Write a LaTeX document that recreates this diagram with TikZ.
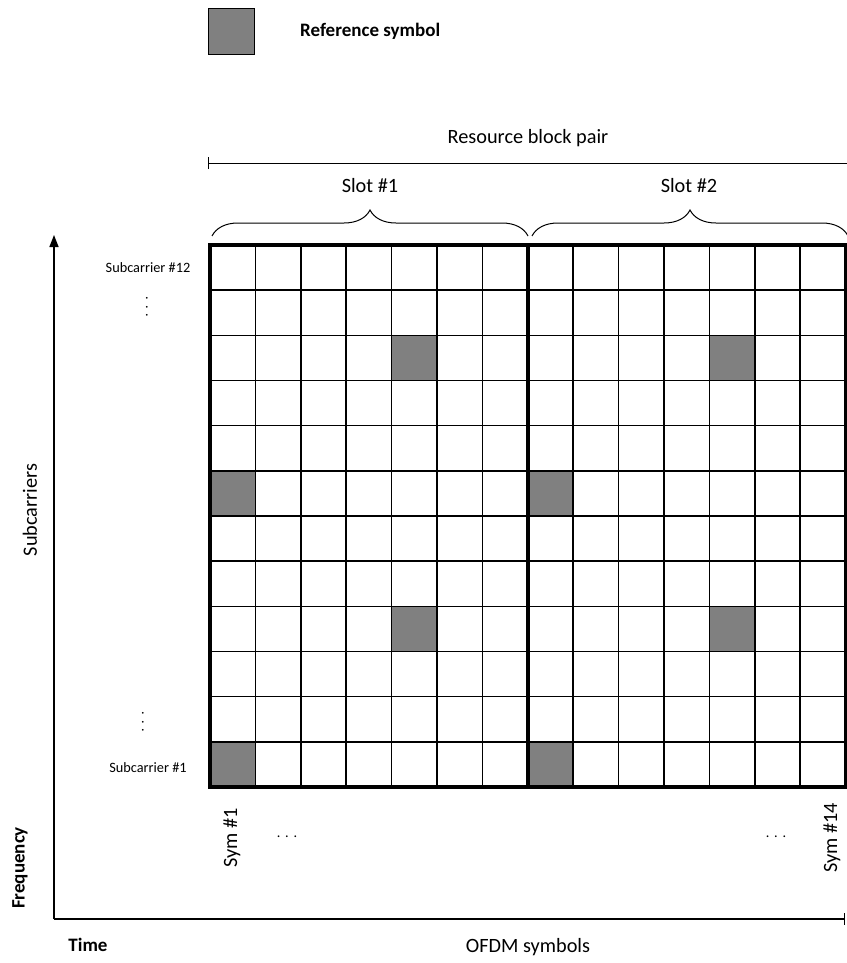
\documentclass[tikz,border=0pt]{standalone}
\usepackage{fontspec}
\setmainfont{Carlito}
\usetikzlibrary{arrows.meta, positioning, decorations.pathreplacing}

\begin{document}
\begin{tikzpicture}[
    x=1pt, y=-1pt,
    lbl/.style   = {font=\fontsize{20.3}{23}\selectfont, inner sep=0pt},
    small/.style = {font=\fontsize{14.3}{16}\selectfont, inner sep=0pt},
    bold/.style  = {font=\fontsize{19}{22}\selectfont\bfseries, inner sep=0pt},
    refsym/.style = {fill=black!50},
    thin/.style  = {line width=1.5pt},
    frame/.style = {line width=3.5pt},
    brc/.style   = {decorate, decoration={brace, amplitude=26pt, aspect=0.5}, line width=1pt},
    arr/.style   = {-{Triangle[length=12pt, width=9pt]}, line width=1.5pt},
    rng/.style   = {{Bar[width=12pt]}-, line width=1pt},
]
\useasboundingbox (0,0) rectangle (846,963);

% Legend
\node[refsym, draw, line width=1pt, minimum size=46pt, inner sep=0pt] (leg) at (231,32) {};
\node[bold, anchor=west] (legtxt) at (300,31) {Reference symbol};

% Resource block pair span
\coordinate (rbl) at (208,163);
\coordinate (rbr) at (848,163);
\draw[rng] (rbl) -- (rbr);
\node[lbl] (rbp) at (528,138) {Resource block pair};

% Slot braces
\coordinate (s1l) at (212,236);
\coordinate (s1r) at (528,236);
\coordinate (s2l) at (532,236);
\coordinate (s2r) at (848,236);
\draw[brc] (s1l) -- (s1r);
\draw[brc] (s2l) -- (s2r);
\node[lbl] (slot1) at (370,186) {Slot \#1};
\node[lbl] (slot2) at (689,186) {Slot \#2};

% Reference symbols (column, row from bottom)
\foreach \c/\r in {1/1, 8/1, 5/4, 12/4, 1/7, 8/7, 5/10, 12/10}
    \fill[refsym] ({210+(\c-1)*45.4}, {787-(\r-1)*45.17}) rectangle ++(45.4,-45.17);

% Resource grid
\foreach \i in {1,...,13}
    \draw[thin] ({210+\i*45.4},245) -- ({210+\i*45.4},787);
\foreach \j in {1,...,11}
    \draw[thin] (210,{245+\j*45.17}) -- (845.6,{245+\j*45.17});
\draw[frame] (210,245) rectangle (845.6,787);
\draw[frame] (527.8,245) -- (527.8,787);

% Subcarrier labels
\node[small] (sc12) at (148,268) {Subcarrier \#12};
\node[small, rotate=-90] (dots1) at (147,307) {.\,\,.\,\,.};
\node[small, rotate=-90] (dots2) at (143,722) {.\,\,.\,\,.};
\node[small] (sc1) at (148,768) {Subcarrier \#1};

% Symbol labels
\node[lbl, rotate=90] (sym1) at (232,838) {Sym \#1};
\node[lbl, rotate=90] (sym14) at (832,838) {Sym \#14};
\node[small] (dots3) at (287,837) {.\,\,.\,\,.};
\node[small] (dots4) at (776,837) {.\,\,.\,\,.};

% Axes
\coordinate (origin) at (54,919);
\coordinate (ftop) at (54,235);
\coordinate (tend) at (845,919);
\draw[arr] (origin) -- (ftop);
\draw[-{Bar[width=12pt]}, line width=1.5pt] (origin) -- (tend);

\node[lbl, rotate=90] (subc) at (30,510) {Subcarriers};
\node[bold, rotate=90] (freq) at (20,868) {Frequency};
\node[bold] (time) at (88,945) {Time};
\node[lbl] (ofdm) at (528,947) {OFDM symbols};
\end{tikzpicture}
\end{document}
